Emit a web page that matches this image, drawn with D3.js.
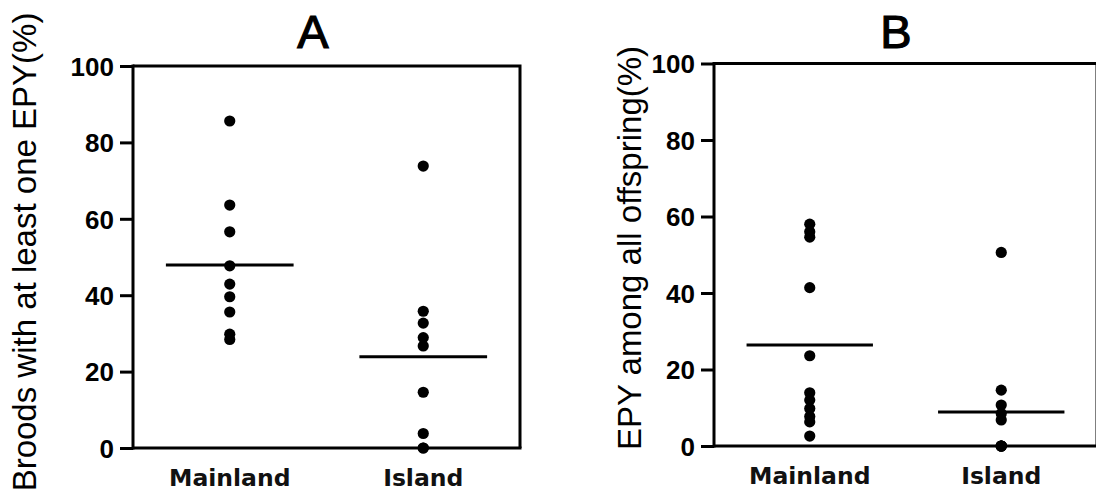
<!DOCTYPE html>
<html>
<head>
<meta charset="utf-8">
<script src="https://cdn.jsdelivr.net/npm/d3@7"></script>
<style>
  html, body { margin: 0; padding: 0; background: #fff; }
  svg { display: block; }
</style>
</head>
<body>
<svg id="chart" width="1096" height="502"></svg>
<script>
// ---- Data ----
const categories = ["Mainland", "Island"];
const yTicks = [0, 20, 40, 60, 80, 100];

// Panel A: Broods with at least one EPY (%)
const broodsMainland = [85.6, 63.6, 56.6, 47.7, 42.9, 39.6, 35.6, 29.8, 28.4];
const broodsIsland   = [73.8, 35.8, 32.7, 28.9, 26.7, 14.6, 3.8, 0, 0];
const broodsMeans    = [47.9, 23.9];

// Panel B: EPY among all offspring (%)
const epyMainland = [58.0, 56.0, 54.6, 41.4, 23.6, 13.9, 12.0, 9.8, 7.7, 6.3, 2.6];
const epyIsland   = [50.6, 14.6, 10.7, 8.5, 6.8, 0, 0, 0, 0, 0];
const epyMeans    = [26.4, 8.9];

const panels = [
  { title: "A", ylabel: "Broods with at least one EPY(%)",
    series: [broodsMainland, broodsIsland], means: broodsMeans,
    left: 133, right: 520, top: 66, bottom: 448, titleX: 313, labelX: 36, labelY: 252 },
  { title: "B", ylabel: "EPY among all offspring(%)",
    series: [epyMainland, epyIsland], means: epyMeans,
    left: 714, right: 1097, top: 63.5, bottom: 446, titleX: 896, labelX: 641, labelY: 248 }
];

const svg = d3.select("#chart");

panels.forEach(p => {
  const g = svg.append("g");
  const x = d3.scalePoint().domain(categories).range([p.left, p.right]).padding(0.5);
  const y = d3.scaleLinear().domain([0, 100]).range([p.bottom, p.top]);

  // frame: top + right
  g.append("path")
    .attr("d", `M${p.left},${p.top}H${p.right}V${p.bottom}`)
    .attr("fill", "none").attr("stroke", "#000").attr("stroke-width", 3);
  // bottom axis line
  g.append("line")
    .attr("x1", p.left).attr("x2", p.right + 1.5)
    .attr("y1", p.bottom).attr("y2", p.bottom)
    .attr("stroke", "#000").attr("stroke-width", 3);

  // y axis
  const ya = g.append("g").attr("transform", `translate(${p.left},0)`)
    .call(d3.axisLeft(y).tickValues(yTicks).tickSize(13).tickSizeOuter(0).tickPadding(6));
  ya.select(".domain").attr("stroke", "#000").attr("stroke-width", 3)
    .attr("d", `M0,${p.top - 1.5}V${p.bottom + 1.5}`);
  ya.selectAll(".tick line").attr("stroke", "#000").attr("stroke-width", 3);
  ya.selectAll(".tick text")
    .attr("fill", "#000")
    .style("font-family", "'Liberation Sans', Arial, sans-serif")
    .style("font-weight", "bold")
    .style("font-size", "26px")
    .attr("dy", "0.36em");

  // x category labels
  g.selectAll("text.cat").data(categories).enter().append("text")
    .attr("class", "cat")
    .attr("x", d => x(d))
    .attr("y", p.bottom + 38)
    .attr("text-anchor", "middle")
    .style("font-family", "'DejaVu Sans', Verdana, sans-serif")
    .style("font-weight", "bold")
    .style("font-size", "23.5px")
    .attr("fill", "#111")
    .text(d => d);

  // points
  p.series.forEach((vals, i) => {
    g.selectAll(null).data(vals).enter().append("circle")
      .attr("cx", x(categories[i]))
      .attr("cy", d => y(d))
      .attr("r", 5.6)
      .attr("fill", "#000");
  });

  // mean lines
  const half = x.step() * 0.33;
  g.selectAll(null).data(p.means).enter().append("line")
    .attr("x1", (d, i) => x(categories[i]) - half)
    .attr("x2", (d, i) => x(categories[i]) + half)
    .attr("y1", d => y(d)).attr("y2", d => y(d))
    .attr("stroke", "#000").attr("stroke-width", 3);

  // title
  g.append("text")
    .attr("x", p.titleX).attr("y", 48)
    .attr("text-anchor", "middle")
    .style("font-family", "'Liberation Sans', Arial, sans-serif")
    .style("font-size", "47px")
    .attr("fill", "#000")
    .attr("stroke", "#000").attr("stroke-width", 1.2)
    .text(p.title);

  // y label
  g.append("text")
    .attr("transform", `translate(${p.labelX},${p.labelY}) rotate(-90)`)
    .attr("text-anchor", "middle")
    .style("font-family", "'Liberation Sans', Arial, sans-serif")
    .style("font-size", "33px")
    .attr("fill", "#000")
    .text(p.ylabel);
});
</script>
</body>
</html>
